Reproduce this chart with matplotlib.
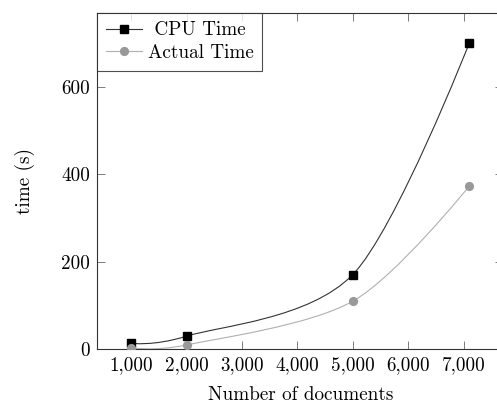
import numpy as np
import matplotlib
matplotlib.use("Agg")
import matplotlib.pyplot as plt
from matplotlib.path import Path
from matplotlib.patches import PathPatch
from matplotlib.lines import Line2D

plt.rcParams['font.family'] = ['cmr10', 'DejaVu Serif']
plt.rcParams['axes.formatter.use_mathtext'] = True
plt.rcParams['mathtext.fontset'] = 'cm'

docs = [1000, 2000, 5000, 7100]
cpu_time = [14, 30, 171, 700]
actual_time = [4, 10, 110, 373]
xticks = [1000, 2000, 3000, 4000, 5000, 6000, 7000]
xtick_labels = ["1,000", "2,000", "3,000", "4,000", "5,000", "6,000", "7,000"]
yticks = [0, 200, 400, 600]
ytick_labels = ["0", "200", "400", "600"]
series_labels = [" CPU Time ", "Actual Time"]

FS = 13.8
W, H = 497, 405
fig = plt.figure(figsize=(W / 100, H / 100), dpi=100)
left, right, top, bottom = 97.3, 503.0, 12.7, 349.3
ax = fig.add_axes([left / W, (H - bottom) / H, (right - left) / W, (bottom - top) / H])
ax.set_xlim(390, 7710)
ax.set_ylim(0, 770)


def smooth_path(xs, ys, tension=0.55):
    # TikZ-style "smooth" cardinal spline, computed in display space
    k = 0.2761 * tension
    pts = ax.transData.transform(np.column_stack([xs, ys]))
    pts = ax.transAxes.inverted().transform(pts)
    n = len(pts)
    tang = []
    for i in range(n):
        a = pts[max(i - 1, 0)]
        b = pts[min(i + 1, n - 1)]
        tang.append((b - a) * k)
    verts = [pts[0]]
    codes = [Path.MOVETO]
    for i in range(n - 1):
        c1 = pts[i] + (tang[i] if i > 0 else 0)
        c2 = pts[i + 1] - (tang[i + 1] if i + 1 < n - 1 else 0)
        verts += [c1, c2, pts[i + 1]]
        codes += [Path.CURVE4] * 3
    return Path(verts, codes)


cpu_line = "#333333"
act_line = "#b0b0b0"
act_mark = "#999999"

ax.add_patch(PathPatch(smooth_path(docs, cpu_time), facecolor="none", edgecolor=cpu_line,
                       lw=0.8, transform=ax.transAxes, zorder=2))
ax.add_patch(PathPatch(smooth_path(docs, actual_time), facecolor="none", edgecolor=act_line,
                       lw=0.8, transform=ax.transAxes, zorder=2))
ax.plot(docs, cpu_time, linestyle="none", marker="s", ms=5.4, color="black", zorder=3)
ax.plot(docs, actual_time, linestyle="none", marker="o", ms=5.6, color=act_mark, zorder=3)

ax.set_xticks(xticks)
ax.set_xticklabels(xtick_labels)
ax.set_yticks(yticks)
ax.set_yticklabels(ytick_labels)
ax.tick_params(direction="in", length=6.0, width=0.6, color="#666666", top=True, right=True,
               labelsize=FS, pad=5)
for s in ax.spines.values():
    s.set_linewidth(0.8)
    s.set_color("#333333")

ax.set_xlabel("Number of documents", fontsize=FS)
ax.set_ylabel("time (s)", fontsize=FS)
ax.xaxis.set_label_coords((301 - left) / (right - left), (bottom - 395) / (bottom - top))
ax.xaxis.label.set_va("center")
ax.yaxis.set_label_coords((25 - left) / (right - left), 0.5)
ax.yaxis.label.set_va("center")

handles = [
    Line2D([], [], color=cpu_line, lw=0.8, marker="s", ms=5.4, mfc="black", mec="black"),
    Line2D([], [], color=act_line, lw=0.8, marker="o", ms=5.6, mfc=act_mark, mec=act_mark),
]
leg = ax.legend(handles, series_labels, loc="upper left", bbox_to_anchor=(0, 1),
                borderaxespad=0, fontsize=FS, frameon=True, fancybox=False,
                edgecolor="#222222", handlelength=1.9, handletextpad=0.3,
                borderpad=0.45, labelspacing=0.25)
leg.get_frame().set_linewidth(0.8)

fig.savefig("out.png", dpi=100)
